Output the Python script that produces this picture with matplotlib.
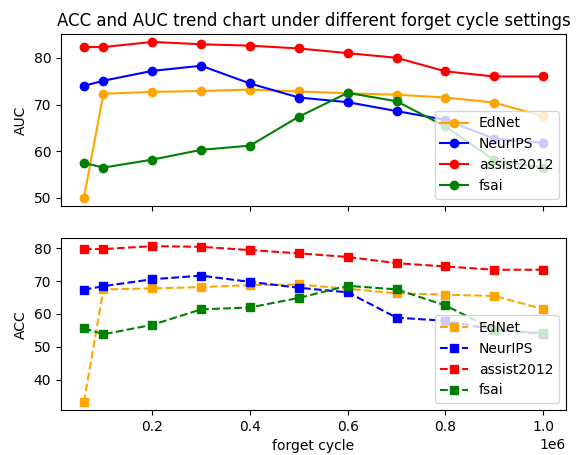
import matplotlib
matplotlib.use('Agg')
import matplotlib.pyplot as plt

# forget cycle settings
cykle = [60000, 100000, 200000, 300000, 400000, 500000, 600000, 700000, 800000, 900000, 1000000]

nazwy = ['EdNet', 'NeurIPS', 'assist2012', 'fsai']
kolory = ['orange', 'blue', 'red', 'green']

auc_ednet = [50.0, 72.3, 72.7, 72.9, 73.2, 72.8, 72.4, 72.1, 71.5, 70.4, 67.5]
auc_neurips = [74.0, 75.1, 77.2, 78.3, 74.5, 71.5, 70.5, 68.6, 66.7, 62.7, 61.8]
auc_assist = [82.3, 82.3, 83.4, 82.9, 82.6, 82.0, 81.0, 80.0, 77.1, 76.0, 76.0]
auc_fsai = [57.5, 56.5, 58.2, 60.3, 61.2, 67.4, 72.5, 70.7, 65.3, 58.1, 56.5]

acc_ednet = [33.1, 67.5, 67.8, 68.2, 68.8, 69.0, 67.7, 66.3, 65.9, 65.5, 61.5]
acc_neurips = [67.4, 68.5, 70.6, 71.7, 69.8, 68.0, 66.6, 58.9, 57.9, 55.2, 53.9]
acc_assist = [79.8, 79.8, 80.7, 80.5, 79.5, 78.5, 77.4, 75.5, 74.5, 73.5, 73.5]
acc_fsai = [55.7, 53.8, 56.7, 61.4, 62.0, 64.9, 68.6, 67.5, 62.6, 55.2, 54.2]

auc = [auc_ednet, auc_neurips, auc_assist, auc_fsai]
acc = [acc_ednet, acc_neurips, acc_assist, acc_fsai]

fig, (ax1, ax2) = plt.subplots(2, 1, sharex=True, figsize=(5.86, 4.55), dpi=100)
fig.subplots_adjust(left=0.104, right=0.966, top=0.925, bottom=0.099, hspace=0.19)

for nazwa, kolor, dane in zip(nazwy, kolory, auc):
    ax1.plot(cykle, dane, marker='o', color=kolor, label=nazwa)
ax1.set_title('ACC and AUC trend chart under different forget cycle settings')
ax1.set_ylabel('AUC')
ax1.legend(loc='lower right')

for nazwa, kolor, dane in zip(nazwy, kolory, acc):
    ax2.plot(cykle, dane, marker='s', linestyle='--', color=kolor, label=nazwa)
ax2.set_xlabel('forget cycle')
ax2.set_ylabel('ACC')
ax2.legend(loc='lower right')

plt.savefig('out.png')
plt.close()
